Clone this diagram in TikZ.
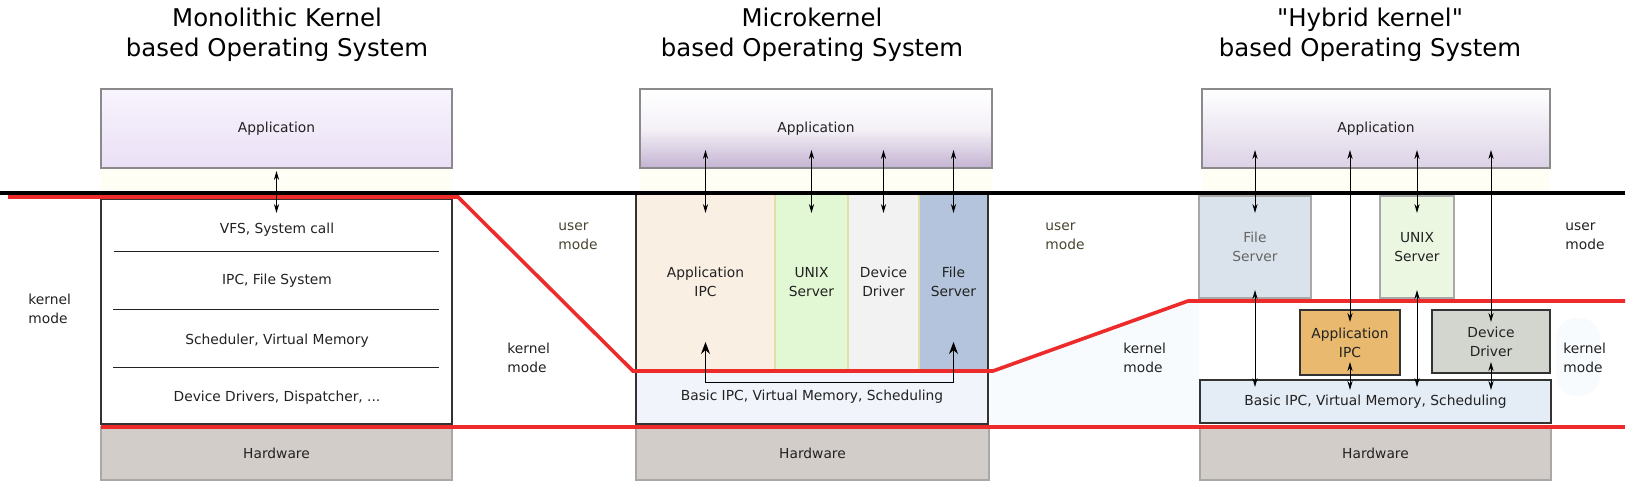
\documentclass[tikz,border=0pt]{standalone}
\usepackage{fontspec}
\setmainfont{DejaVu Sans}[Ligatures=TeXOff]
\usetikzlibrary{arrows.meta,calc}
\definecolor{txt}{HTML}{222222}
\definecolor{umode}{HTML}{4A4430}
\definecolor{appborder}{HTML}{8A8A8A}
\definecolor{hwfill}{HTML}{D3CDCA}
\definecolor{hwborder}{HTML}{A8A8A8}
\definecolor{redline}{HTML}{EE2B2B}
\definecolor{frame}{HTML}{333333}
\definecolor{ipcfill}{HTML}{F9EFE3}
\definecolor{unixfill}{HTML}{E2F7D3}
\definecolor{devfill}{HTML}{F2F2F2}
\definecolor{fsfill}{HTML}{B3C4DC}
\definecolor{basefill}{HTML}{F1F5FB}
\definecolor{hfsfill}{HTML}{DAE3EC}
\definecolor{huxfill}{HTML}{EBF7E0}
\definecolor{hipcfill}{HTML}{E8B96E}
\definecolor{hddfill}{HTML}{D3D5CF}
\definecolor{hbasefill}{HTML}{E4ECF6}
\definecolor{sepcol}{HTML}{E4DFA6}
\definecolor{faintyel}{HTML}{FEFEF5}
\definecolor{faintblue}{HTML}{F8FBFE}
\definecolor{apptopA}{HTML}{F8F4FD}
\definecolor{appbotA}{HTML}{EAE0F6}
\definecolor{appbotB}{HTML}{C4B3D2}
\definecolor{appbotC}{HTML}{DCD2E6}
\definecolor{greytxt}{HTML}{666666}
\begin{document}
\begin{tikzpicture}[x=0.5pt,y=-0.5pt,
  lbl/.style={font=\fontsize{6.9}{9.5}\selectfont, text=txt, align=center},
  side/.style={font=\fontsize{6.9}{9.5}\selectfont, text=txt, align=left, anchor=west, inner sep=0},
  ttl/.style={font=\fontsize{12.2}{15}\selectfont, anchor=base, inner sep=0, text=black},
  rect/.style n args={4}{minimum width={(#3-#1)*0.5pt}, minimum height={(#4-#2)*0.5pt}, at={({(#1+#3)/2},{(#2+#4)/2})}},
  boxfit/.style={inner sep=0, outer sep=0, lbl},
  appbox/.style={boxfit, draw=appborder, line width=0.75pt},
  hwbox/.style={boxfit, draw=hwborder, fill=hwfill, line width=0.6pt},
  darkbox/.style={boxfit, draw=frame, line width=1pt},
  dbl/.style={line width=0.5pt, arrows={Stealth[length=4.5pt,width=2.6pt]-Stealth[length=4.5pt,width=2.6pt]}},
  bigdbl/.style={line width=0.5pt, arrows={Stealth[length=6pt,width=4.5pt]-Stealth[length=6pt,width=4.5pt]}},
  redln/.style={draw=redline, line width=1.8pt},
  sepln/.style={draw=sepcol, line width=1.1pt}
]
\useasboundingbox (0,0) rectangle (1634,491);

% titles
\node[ttl] (t1a) at (277,27) {Monolithic Kernel};
\node[ttl] (t1b) at (277,57) {based Operating System};
\node[ttl] (t2a) at (812,27) {Microkernel};
\node[ttl] (t2b) at (812,57) {based Operating System};
\node[ttl] (t3a) at (1370,27) {"Hybrid kernel"};
\node[ttl] (t3b) at (1370,57) {based Operating System};

% faint background areas
\fill[faintyel] (101,168) rectangle (452,193);
\fill[faintyel] (640,168) rectangle (992,193);
\fill[faintyel] (1202,168) rectangle (1550,193);
\fill[faintblue] (990,372) -- (1188,302) -- (1199,302) -- (1199,425) -- (990,425) -- cycle;
\fill[faintblue, rounded corners=10pt] (1556,318) rectangle (1600,396);

% ---------- Monolithic ----------
\node[appbox, top color=apptopA, bottom color=appbotA, rect={101}{89}{452}{168}] (app1) {Application};
\node[darkbox, fill=white, rect={101}{199}{452}{424}] (kbox1) {};
\node[lbl] (l1) at (277,230) {VFS, System call};
\node[lbl] (l2) at (277,281) {IPC, File System};
\node[lbl] (l3) at (277,341) {Scheduler, Virtual Memory};
\node[lbl] (l4) at (277,398) {Device Drivers, Dispatcher, ...};
\draw[txt, line width=0.5pt] (114,252) -- (439,252);
\draw[txt, line width=0.5pt] (113,310) -- (439,310);
\draw[txt, line width=0.5pt] (113,368) -- (439,368);
\node[hwbox, rect={101}{427}{452}{480}] (hw1) {Hardware};

% ---------- Microkernel ----------
\node[appbox, top color=white, bottom color=appbotB, middle color=white!60!appbotB!45, rect={640}{89}{992}{168}] (app2) {Application};
\node[boxfit, fill=ipcfill, rect={636}{194}{775}{370}] (mc1) {Application\\IPC};
\node[boxfit, fill=unixfill, rect={775}{194}{848}{370}] (mc2) {UNIX\\Server};
\node[boxfit, fill=devfill, rect={848}{194}{919}{370}] (mc3) {Device\\Driver};
\node[boxfit, fill=fsfill, rect={919}{194}{988}{370}] (mc4) {File\\Server};
\node[boxfit, fill=basefill, rect={636}{370}{988}{424}] (base2) {\raisebox{-1.5pt}{Basic IPC, Virtual Memory, Scheduling}};
\draw[sepln] (mc1.north east) -- (mc1.south east);
\draw[sepln] (mc2.north east) -- (mc2.south east);
\draw[sepln] (mc3.north east) -- (mc3.south east);
\node[boxfit, draw=frame, line width=0.8pt, rect={636}{194}{988}{424}] (mframe) {};
\node[hwbox, rect={636}{427}{989}{480}] (hw2) {Hardware};

% ---------- Hybrid ----------
\node[appbox, top color=white, bottom color=appbotC, rect={1202}{89}{1550}{168}] (app3) {Application};
\node[boxfit, fill=hfsfill, draw=hwborder, line width=0.9pt, text=greytxt, rect={1199}{196}{1311}{298}] (hfs) {File\\Server};
\node[boxfit, fill=huxfill, draw=hwborder, line width=0.9pt, rect={1380}{196}{1454}{298}] (hux) {UNIX\\Server};
\node[darkbox, fill=hipcfill, rect={1300}{310}{1400}{375}] (hipc) {Application\\IPC};
\node[darkbox, fill=hddfill, rect={1432}{310}{1550}{373}] (hdd) {Device\\Driver};
\node[darkbox, fill=hbasefill, rect={1200}{380}{1551}{423}] (hbase) {Basic IPC, Virtual Memory, Scheduling};
\node[hwbox, rect={1200}{426}{1551}{480}] (hw3) {Hardware};

% mode boundaries
\draw[black, line width=1.8pt] (0,193) -- (1625,193);
\draw[redln] (8,197) -- (458,197) -- (633,371) -- (993,371) -- (1188,301) -- (1625,301);
\draw[redln] (101,427) -- (1625,427);

% mode labels
\node[side] (km1) at (28,308.5) {kernel\\mode};
\node[side, text=umode] (um2) at (558,236.5) {user\\mode};
\node[side] (km2) at (507,357.5) {kernel\\mode};
\node[side, text=umode] (um3) at (1045,236.5) {user\\mode};
\node[side] (km3) at (1123,357.5) {kernel\\mode};
\node[side] (um4) at (1565,236.5) {user\\mode};
\node[side] (km4) at (1563,357.5) {kernel\\mode};

% ---------- connectors ----------
\draw[dbl] ($(app1.south)+(0,3)$) -- ($(kbox1.north)+(0,14)$);

\draw[dbl] ($(mc1.north)+(0,-44)$) -- ($(mc1.north)+(0,19)$);
\draw[dbl] ($(mc2.north)+(0,-44)$) -- ($(mc2.north)+(0,19)$);
\draw[dbl] ($(mc3.north)+(0,-44)$) -- ($(mc3.north)+(0,19)$);
\draw[dbl] ($(mc4.north)+(0,-44)$) -- ($(mc4.north)+(0,19)$);
\draw[bigdbl] ($(mc1.south)+(0,-28)$) -- ($(mc1.south)+(0,13)$) -| ($(mc4.south)+(0,-28)$);

\draw[dbl] ($(hfs.north)+(0,-46)$) -- ($(hfs.north)+(0,17)$);
\draw[dbl] ($(hfs.south)+(0,-8)$) -- ($(hfs.south |- hbase.north)+(0,7)$);
\draw[dbl] ($(hipc.north |- app3.south)+(0,-18)$) -- ($(hipc.north)+(0,12)$);
\draw[dbl] ($(hipc.south)+(0,-13)$) -- ($(hipc.south |- hbase.north)+(0,10)$);
\draw[dbl] ($(hux.north)+(0,-46)$) -- ($(hux.north)+(0,17)$);
\draw[dbl] ($(hux.south)+(0,-8)$) -- ($(hux.south |- hbase.north)+(0,7)$);
\draw[dbl] ($(hdd.north |- app3.south)+(0,-18)$) -- ($(hdd.north)+(0,12)$);
\draw[dbl] ($(hdd.south)+(0,-11)$) -- ($(hdd.south |- hbase.north)+(0,10)$);
\end{tikzpicture}
\end{document}
